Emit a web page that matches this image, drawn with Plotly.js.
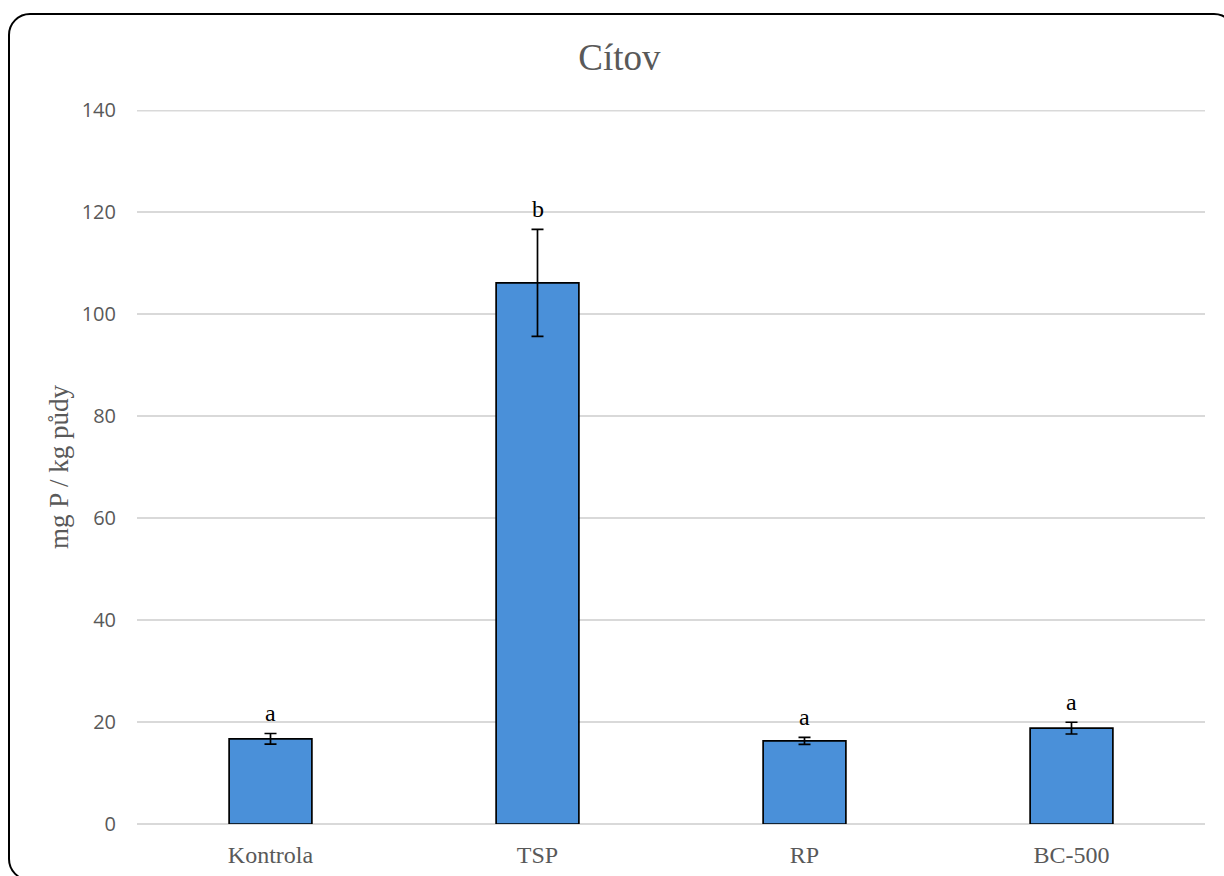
<!DOCTYPE html>
<html>
<head>
<meta charset="utf-8">
<script src="https://cdn.plot.ly/plotly-3.0.1.min.js"></script>
<style>
html,body{margin:0;padding:0;background:#fff;overflow:hidden;}
#frame{position:absolute;left:8px;top:13px;width:1228px;height:868px;border:2px solid #000;border-radius:22px;box-sizing:border-box;pointer-events:none;z-index:2;}
#chart{position:absolute;left:0;top:0;width:1224px;height:876px;}
</style>
</head>
<body>
<div id="frame"></div>
<div id="chart"></div>
<script>
const categories = ["Kontrola", "TSP", "RP", "BC-500"];
const values = [16.7, 106.1, 16.3, 18.8];
const errors = [1.05, 10.5, 0.7, 1.15];
const letters = ["a", "b", "a", "a"];
const yTicks = [0, 20, 40, 60, 80, 100, 120, 140];
const yMax = 140;

const trace = {
  type: "bar",
  x: categories,
  y: values,
  width: 0.31,
  marker: {color: "#4a90d9", line: {color: "#000", width: 1.7}},
  error_y: {type: "data", array: errors, visible: true, color: "#000", thickness: 1.7, width: 6}
};

const annotations = categories.map((c, i) => ({
  x: c, y: values[i] + errors[i], xref: "x", yref: "y",
  text: letters[i], showarrow: false, yanchor: "bottom", yshift: 5,
  font: {family: "Liberation Serif, Times New Roman, serif", size: 24, color: "#000"}
}));

const layout = {
  width: 1224, height: 876,
  margin: {l: 137, r: 19, t: 110, b: 52},
  paper_bgcolor: "rgba(0,0,0,0)",
  plot_bgcolor: "rgba(0,0,0,0)",
  showlegend: false,
  title: {text: "Cítov", x: 0.506, xanchor: "center", y: 0.935, yanchor: "middle",
    font: {family: "Liberation Serif, Times New Roman, serif", size: 37, color: "#595959"}},
  xaxis: {
    showgrid: false, zeroline: false, showline: false, ticks: "", ticklabelstandoff: 14,
    tickfont: {family: "Liberation Serif, Times New Roman, serif", size: 24, color: "#595959"}
  },
  yaxis: {
    range: [0, yMax], tickvals: yTicks, ticktext: yTicks.map(String),
    showgrid: true, gridcolor: "#d9d9d9", gridwidth: 1.5,
    zeroline: true, zerolinecolor: "#d9d9d9", zerolinewidth: 1.5,
    showline: false, ticks: "", ticklabelstandoff: 20,
    tickfont: {family: "Open Sans, Liberation Sans, sans-serif", size: 20, color: "#595959"},
    title: {text: "mg P / kg půdy", standoff: 5,
      font: {family: "Liberation Serif, Times New Roman, serif", size: 27, color: "#595959"}}
  },
  shapes: [{type: "line", xref: "paper", yref: "y", x0: 0, x1: 1, y0: yMax, y1: yMax,
    line: {color: "#d9d9d9", width: 3}, layer: "below"}],
  annotations: annotations
};

Plotly.newPlot("chart", [trace], layout, {displayModeBar: false, staticPlot: true});
</script>
</body>
</html>
